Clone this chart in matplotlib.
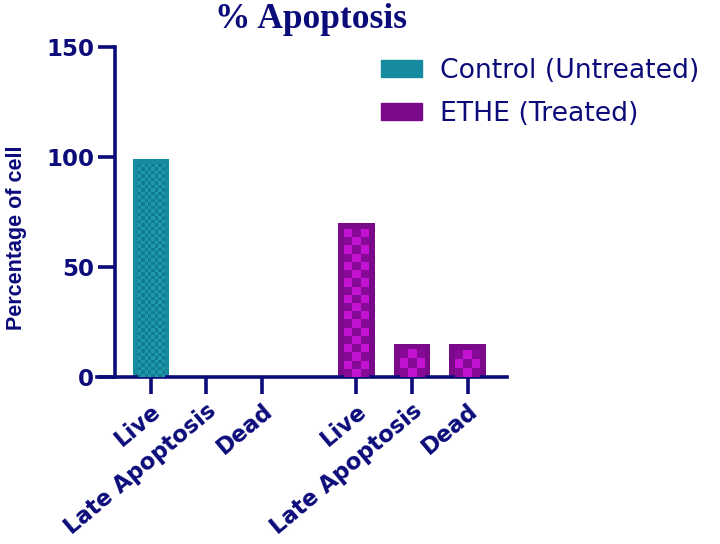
import matplotlib
matplotlib.use("Agg")
import matplotlib.pyplot as plt
import numpy as np
from matplotlib.patches import Patch

categories = ["Live", "Late Apoptosis", "Dead"]
control_values = [99.0, 0.6, 0.0]
treated_values = [70.0, 15.2, 14.8]
series_names = ["Control (Untreated)", "ETHE (Treated)"]
yticks = [0, 50, 100, 150]

NAVY = "#0B0B7A"
teal_base, teal_dark, teal_light = "#168A9E", "#127C90", "#1E9AAE"
purp_base, purp_dark, purp_light = "#7A0A8A", "#860A96", "#C412D2"

fig = plt.figure(figsize=(7.2, 5.44), dpi=100)
ax = fig.add_axes([97/720, 1-377/544, (507-97)/720, (377-47)/544])

pos_c = np.array([0.0, 1.0, 2.0])
pos_t = np.array([3.7, 4.7, 5.7])
width = 0.66
ax.set_xlim(-0.97, 6.41)
ax.set_ylim(0, 150)

bars_c = ax.bar(pos_c, control_values, width, color=teal_base, edgecolor=teal_base, linewidth=0, zorder=2)
bars_t = ax.bar(pos_t, treated_values, width, color=purp_base, edgecolor=purp_base, linewidth=0, zorder=2)

fig.canvas.draw()
inv = ax.transData.inverted()

def checker(bars, cdark, clight, sq_px, inset_px):
    for b in bars:
        x0, y0 = b.get_x(), b.get_y()
        w, h = b.get_width(), b.get_height()
        if h <= 0:
            continue
        (px0, py0) = ax.transData.transform((x0, y0))
        (px1, py1) = ax.transData.transform((x0 + w, y0 + h))
        ix0, ix1 = px0 + inset_px, px1 - inset_px
        iy0, iy1 = py0, py1 - inset_px
        if iy1 - iy0 < sq_px or ix1 - ix0 < sq_px:
            continue
        nc = max(1, int(round((ix1 - ix0) / sq_px)))
        nr = max(1, int(round((iy1 - iy0) / sq_px)))
        grid = (np.add.outer(np.arange(nr), np.arange(nc)) % 2)
        c1 = np.array(matplotlib.colors.to_rgba(cdark))
        c2 = np.array(matplotlib.colors.to_rgba(clight))
        img = np.where(grid[..., None] == 0, c1, c2)
        dx0, dy0 = inv.transform((ix0, iy0))
        dx1, dy1 = inv.transform((ix1, iy1))
        ax.imshow(img, extent=(dx0, dx1, dy0, dy1), aspect="auto",
                  interpolation="nearest", zorder=3, origin="lower")

checker(bars_c, teal_dark, teal_light, 3.5, 5)
checker(bars_t, purp_dark, purp_light, 8, 6)
ax.set_xlim(-0.97, 6.41)
ax.set_ylim(0, 150)

for s in ["top", "right"]:
    ax.spines[s].set_visible(False)
ax.spines["left"].set_position(("data", -0.65))
for s in ["left", "bottom"]:
    ax.spines[s].set_color(NAVY)
    ax.spines[s].set_linewidth(2.6)
ax.spines["left"].set_zorder(5)

ax.set_xticks(list(pos_c) + list(pos_t))
ax.set_xticklabels(categories + categories, rotation=40, ha="right",
                   rotation_mode="anchor", fontsize=16.3, fontweight="bold",
                   color=NAVY, family="DejaVu Sans")
ax.set_yticks(yticks)
ax.set_yticklabels([str(v) for v in yticks], fontsize=16.5, fontweight="bold",
                   color=NAVY, family="DejaVu Sans")
ax.tick_params(axis="x", length=12, width=2.6, color=NAVY, pad=4)
ax.tick_params(axis="y", length=12, width=2.6, color=NAVY, pad=3)

ax.set_ylabel("Percentage of cell", fontsize=15.5, fontweight="bold", color=NAVY,
              family="Liberation Sans")
ax.yaxis.set_label_coords(17/720, 1-238/544, transform=fig.transFigure)
ax.yaxis.label.set_va("center")

fig.text(311/720, 1-19/544, "% Apoptosis", ha="center", va="center", fontsize=25.5,
         fontweight="bold", color=NAVY, family="Liberation Serif")

handles = [Patch(facecolor=teal_base, edgecolor=teal_base),
           Patch(facecolor=purp_base, edgecolor=purp_base)]
leg = fig.legend(handles, series_names, loc="upper left",
                 bbox_to_anchor=(357/720, 1-34/544), frameon=False,
                 prop={"family": "DejaVu Sans", "size": 19.2},
                 handlelength=1.52, handleheight=0.6, labelspacing=0.62,
                 handletextpad=0.68)
for t in leg.get_texts():
    t.set_color(NAVY)

fig.savefig("out.png", dpi=100)
